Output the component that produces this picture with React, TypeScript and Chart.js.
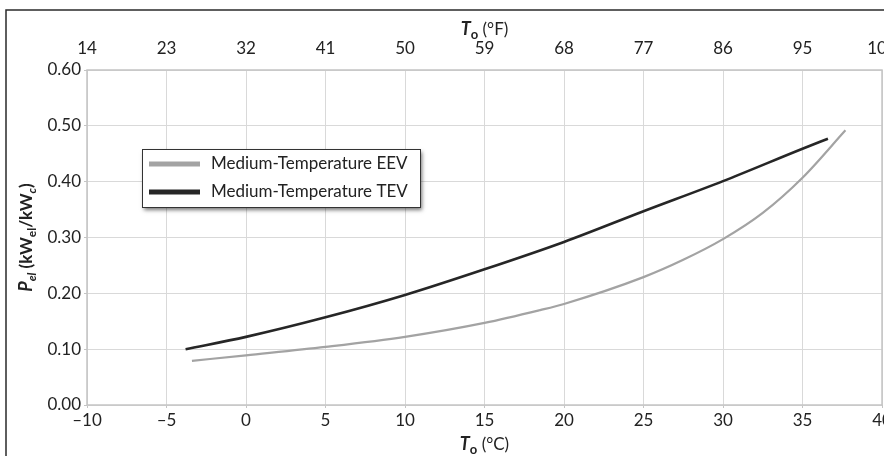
import React, { useEffect, useRef } from "react";
import { Chart, registerables } from "chart.js";

Chart.register(...registerables);

const tempEEV = [-3.4, 0, 5, 10, 15, 18.5, 20, 25, 27.5, 30, 32.5, 35, 37.7];
const pelEEV = [0.079, 0.089, 0.104, 0.122, 0.147, 0.17, 0.181, 0.229, 0.26, 0.297, 0.344, 0.407, 0.492];
const tempTEV = [-3.8, 0, 5, 10, 15, 20, 25, 30, 35, 36.6];
const pelTEV = [0.1, 0.122, 0.157, 0.197, 0.243, 0.292, 0.347, 0.401, 0.459, 0.477];
const seriesLabels = ["Medium-Temperature EEV", "Medium-Temperature TEV"];
const seriesColors = ["#a3a3a3", "#262626"];
const celsiusRange = [-10, 40];
const fahrenheitRange = [14, 104];
const pelRange = [0, 0.6];

const FONT = "Lato, 'Open Sans', sans-serif";
const TXT = "#222";

type Run = { t: string; font: string; dy: number };

function drawRuns(ctx: CanvasRenderingContext2D, runs: Run[], cx: number, cy: number) {
  let total = 0;
  for (const r of runs) {
    ctx.font = r.font;
    total += ctx.measureText(r.t).width;
  }
  let x = cx - total / 2;
  for (const r of runs) {
    ctx.font = r.font;
    ctx.fillText(r.t, x, cy + r.dy);
    x += ctx.measureText(r.t).width;
  }
}

const decorPlugin = {
  id: "decor",
  beforeDraw(chart: any) {
    const ctx = chart.ctx as CanvasRenderingContext2D;
    ctx.save();
    ctx.strokeStyle = "#2a2a2a";
    ctx.lineWidth = 1.5;
    ctx.beginPath();
    ctx.moveTo(6, chart.height + 5);
    ctx.lineTo(6, 10);
    ctx.lineTo(chart.width + 5, 10);
    ctx.stroke();
    ctx.restore();
  },
  afterDraw(chart: any) {
    const ctx = chart.ctx as CanvasRenderingContext2D;
    const a = chart.chartArea;
    ctx.save();
    ctx.strokeStyle = "#c4c4c4";
    ctx.lineWidth = 1.5;
    ctx.strokeRect(a.left, a.top, a.right - a.left, a.bottom - a.top);

    ctx.fillStyle = TXT;
    ctx.textBaseline = "alphabetic";
    ctx.textAlign = "left";
    const cx = (a.left + a.right) / 2;
    drawRuns(ctx, [
      { t: "T", font: `italic bold 18px ${FONT}`, dy: 0 },
      { t: "o", font: `bold 13px ${FONT}`, dy: 4 },
      { t: " (°F)", font: `17px ${FONT}`, dy: 0 },
    ], cx, 35);
    drawRuns(ctx, [
      { t: "T", font: `italic bold 18px ${FONT}`, dy: 0 },
      { t: "o", font: `bold 13px ${FONT}`, dy: 4 },
      { t: " (°C)", font: `17px ${FONT}`, dy: 0 },
    ], cx, 450);

    ctx.save();
    ctx.translate(32, (a.top + a.bottom) / 2);
    ctx.rotate(-Math.PI / 2);
    drawRuns(ctx, [
      { t: "P", font: `italic bold 18px ${FONT}`, dy: 0 },
      { t: "el", font: `italic bold 12px ${FONT}`, dy: 4 },
      { t: " (kW", font: `bold 17px ${FONT}`, dy: 0 },
      { t: "el", font: `bold 12px ${FONT}`, dy: 4 },
      { t: "/kW", font: `bold 17px ${FONT}`, dy: 0 },
      { t: "c", font: `italic bold 12px ${FONT}`, dy: 4 },
      { t: ")", font: `bold 17px ${FONT}`, dy: 0 },
    ], 0, 0);
    ctx.restore();

    const lx = 142, ly = 149, lw = 278, lh = 58;
    ctx.save();
    ctx.shadowColor = "rgba(0,0,0,0.55)";
    ctx.shadowBlur = 4;
    ctx.shadowOffsetX = 2;
    ctx.shadowOffsetY = 3;
    ctx.fillStyle = "#fff";
    ctx.fillRect(lx, ly, lw, lh);
    ctx.restore();
    ctx.strokeStyle = "#333";
    ctx.lineWidth = 1;
    ctx.strokeRect(lx + 0.5, ly + 0.5, lw, lh);
    const ds = chart.data.datasets;
    const rows = [164, 192];
    ds.forEach((d: any, i: number) => {
      ctx.strokeStyle = d.borderColor;
      ctx.lineWidth = 5;
      ctx.beginPath();
      ctx.moveTo(149, rows[i]);
      ctx.lineTo(200, rows[i]);
      ctx.stroke();
      ctx.fillStyle = TXT;
      ctx.font = `17px ${FONT}`;
      ctx.textBaseline = "middle";
      ctx.textAlign = "left";
      ctx.fillText(d.label, 211, rows[i]);
    });
    ctx.restore();
  },
};

export default function App() {
  const ref = useRef<HTMLCanvasElement>(null);
  useEffect(() => {
    document.body.style.margin = "0";
    document.body.style.overflow = "hidden";
    const toPts = (xs: number[], ys: number[]) => xs.map((x, i) => ({ x, y: ys[i] }));
    const tickFont = { family: FONT, size: 17 };
    const grid = { color: "#d9d9d9", lineWidth: 1, tickLength: 3, tickColor: "#c4c4c4" };
    const chart = new Chart(ref.current!, {
      type: "line",
      data: {
        datasets: [
          {
            label: seriesLabels[0],
            data: toPts(tempEEV, pelEEV),
            borderColor: seriesColors[0],
            borderWidth: 2.2,
            pointRadius: 0,
            cubicInterpolationMode: "monotone",
            xAxisID: "x",
          },
          {
            label: seriesLabels[1],
            data: toPts(tempTEV, pelTEV),
            borderColor: seriesColors[1],
            borderWidth: 2.6,
            pointRadius: 0,
            cubicInterpolationMode: "monotone",
            xAxisID: "x",
          },
        ],
      },
      options: {
        animation: false,
        responsive: false,
        layout: { padding: { left: 0, right: 2, top: 0, bottom: 0 } },
        plugins: { legend: { display: false }, tooltip: { enabled: false } },
        scales: {
          x: {
            type: "linear",
            position: "bottom",
            min: celsiusRange[0],
            max: celsiusRange[1],
            grid: grid as any,
            border: { display: false },
            ticks: {
              stepSize: 5,
              font: tickFont,
              color: TXT,
              padding: 2,
              maxRotation: 0,
              callback: (v: any) => (v < 0 ? "\u2013" + Math.abs(v) : String(v)),
            },
            afterFit: (s: any) => {
              s.height = 51;
              s.paddingLeft = 0;
              s.paddingRight = 0;
            },
          },
          xF: {
            type: "linear",
            position: "top",
            min: fahrenheitRange[0],
            max: fahrenheitRange[1],
            grid: { display: false, drawTicks: false },
            border: { display: false },
            ticks: { stepSize: 9, font: tickFont, color: TXT, padding: 11, maxRotation: 0 },
            afterFit: (s: any) => {
              s.height = 70;
              s.paddingLeft = 0;
              s.paddingRight = 0;
            },
          },
          y: {
            type: "linear",
            min: pelRange[0],
            max: pelRange[1],
            grid: grid as any,
            border: { display: false },
            ticks: {
              stepSize: 0.1,
              font: tickFont,
              color: TXT,
              padding: 3,
              callback: (v: any) => Number(v).toFixed(2),
            },
            afterFit: (s: any) => {
              s.width = 87;
              s.paddingTop = 0;
              s.paddingBottom = 0;
            },
          },
        },
      } as any,
      plugins: [decorPlugin],
    });
    return () => chart.destroy();
  }, []);
  return <canvas ref={ref} width={884} height={456} style={{ display: "block" }} />;
}
